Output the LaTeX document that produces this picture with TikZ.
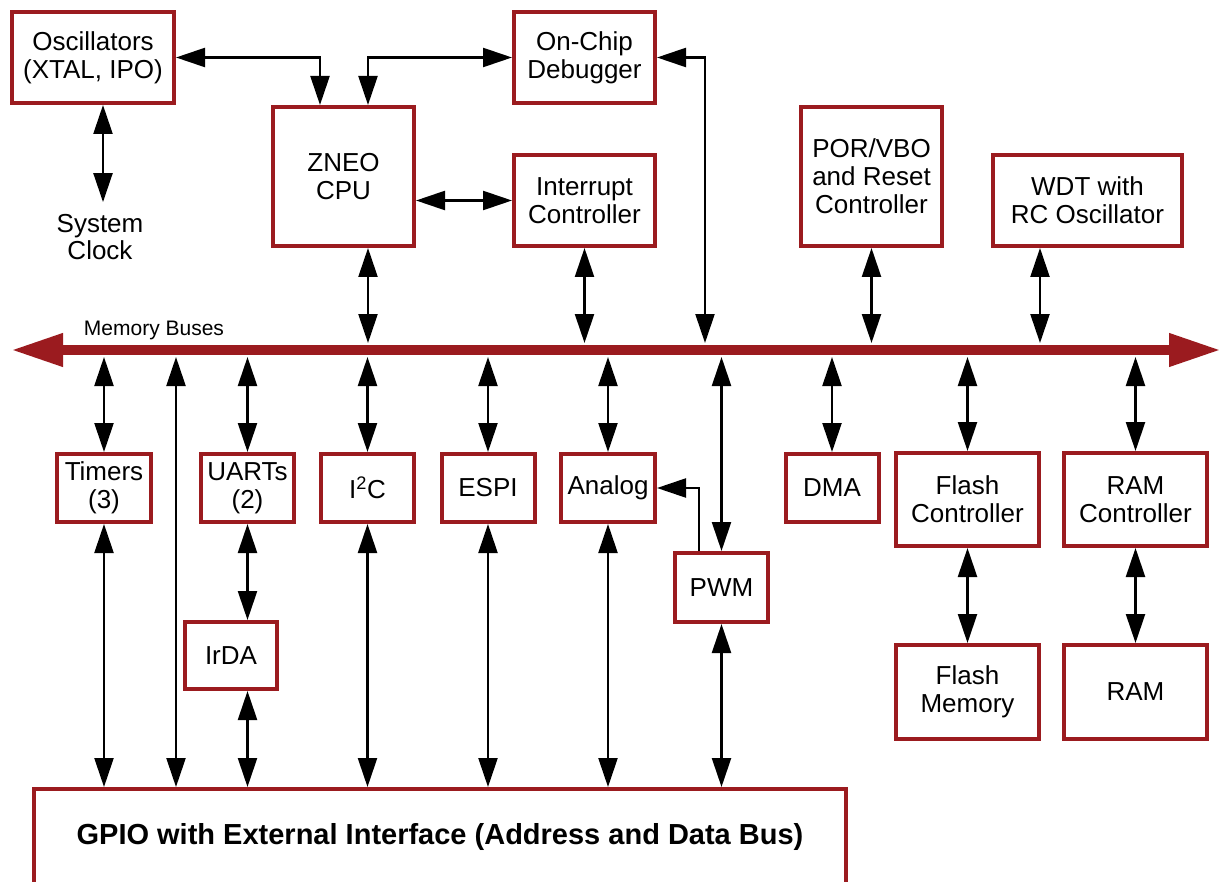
\documentclass[tikz,border=0pt]{standalone}
\usepackage{fontspec}
\setmainfont{Liberation Sans}
\usetikzlibrary{arrows.meta,calc,positioning}
\definecolor{chipred}{RGB}{155,27,31}
\tikzset{
  blk/.style={draw=chipred,line width=4pt,fill=white,align=center,inner sep=0pt,
    font=\fontsize{26}{28}\selectfont},
  link/.style={>={Triangle[length=29pt,width=19pt]},line width=2.3pt,<->},
  bus/.style={line width=10pt,chipred,
    {Triangle[length=52pt,width=31pt]}-{Triangle[length=52pt,width=31pt]}}
}

\begin{document}
\begin{tikzpicture}[x=1pt,y=-1pt]
\path[use as bounding box,clip] (0,0) rectangle (1222,882);
% blocks above the bus
\node[blk,minimum width=162,minimum height=91] (osc) at (93,57.5) {Oscillators\\(XTAL, IPO)};
\node[blk,minimum width=141,minimum height=139] (cpu) at (343.5,176.5) {ZNEO\\CPU};
\node[blk,minimum width=141,minimum height=91] (dbg) at (584.5,57.5) {On-Chip\\Debugger};
\node[blk,minimum width=141,minimum height=91] (intc) at (584.5,200.5) {Interrupt\\Controller};
\node[blk,minimum width=141,minimum height=139] (por) at (871.5,176.5) {POR/VBO\\and Reset\\Controller};
\node[blk,minimum width=189,minimum height=91] (wdt) at (1087.5,200.5) {WDT with\\RC Oscillator};
\node[align=center,inner sep=12pt,font=\fontsize{26}{27}\selectfont] (clk) at (100,237) {System\\Clock};

% memory bus
\coordinate (busL) at (11,350);
\coordinate (busR) at (1221,350);
\coordinate (busT) at (0,343);
\coordinate (busB) at (0,357);
\draw[bus] (busL) -- (busR);
\node[font=\fontsize{21}{22}\selectfont] (membus) at (154,330) {Memory Buses};

% blocks below the bus
\node[blk,minimum width=94,minimum height=68] (tmr) at (104,488) {Timers\\(3)};
\node[blk,minimum width=93,minimum height=68] (uart) at (247.5,488) {UARTs\\(2)};
\node[blk,minimum width=93,minimum height=68] (i2c) at (367.5,488) {I\textsuperscript{2}C};
\node[blk,minimum width=93,minimum height=68] (espi) at (488,488) {ESPI};
\node[blk,minimum width=94,minimum height=68] (ana) at (608,488) {Analog};
\node[blk,minimum width=93,minimum height=69] (pwm) at (721.5,587.5) {PWM};
\node[blk,minimum width=93,minimum height=68] (dma) at (832,488) {DMA};
\node[blk,minimum width=143,minimum height=93] (flc) at (967.5,499.5) {Flash\\Controller};
\node[blk,minimum width=143,minimum height=93] (ramc) at (1135.5,499.5) {RAM\\Controller};
\node[blk,minimum width=92,minimum height=67] (irda) at (231,655.5) {IrDA};
\node[blk,minimum width=143,minimum height=94] (flm) at (967.5,692) {Flash\\Memory};
\node[blk,minimum width=143,minimum height=94] (ram) at (1135.5,692) {RAM};
\node[blk,minimum width=812,minimum height=96,font=\bfseries\fontsize{29}{30}\selectfont]
  (gpio) at (440,837) {GPIO with External Interface (Address and Data Bus)};

% taps
\coordinate (cpuL) at ($(cpu.north)+(-23.5,0)$);
\coordinate (cpuR) at ($(cpu.north)+(24.5,0)$);
\coordinate (cpuD) at ($(cpu.south)+(24.5,0)$);
\coordinate (clkU) at ($(osc.south)+(10,0)$);
\coordinate (dbgR) at ($(dbg.east)+(48,0)$);
\coordinate (wdtD) at ($(wdt.south)+(-47.5,0)$);
\coordinate (pwmL) at ($(pwm.north)+(-22.5,0)$);
\coordinate (ext) at (176,357);

% connectors above the bus
\draw[link] (osc.east) -| (cpuL);
\draw[link] (dbg.west) -| (cpuR);
\draw[link] (clkU) -- (clkU |- clk.north);
\draw[link] (cpu.east |- intc.west) -- (intc.west);
\draw[link] (cpuD) -- (cpuD |- busT);
\draw[link] (intc.south) -- (intc.south |- busT);
\draw[link] (dbg.east) -- (dbgR) -- (dbgR |- busT);
\draw[link] (por.south) -- (por.south |- busT);
\draw[link] (wdtD) -- (wdtD |- busT);

% connectors below the bus
\foreach \n in {tmr,uart,i2c,espi,ana,pwm,dma,flc,ramc}
  \draw[link] (\n.north |- busB) -- (\n.north);
\foreach \n in {tmr,i2c,espi,ana,pwm}
  \draw[link] (\n.south) -- (\n.south |- gpio.north);
\draw[link] (ext) -- (ext |- gpio.north);
\draw[link] (uart.south) -- (uart.south |- irda.north);
\draw[link] (uart.south |- irda.south) -- (uart.south |- gpio.north);
\draw[link,->] (pwmL) |- (ana.east);
\draw[link] (flc.south) -- (flm.north);
\draw[link] (ramc.south) -- (ram.north);
\end{tikzpicture}
\end{document}
